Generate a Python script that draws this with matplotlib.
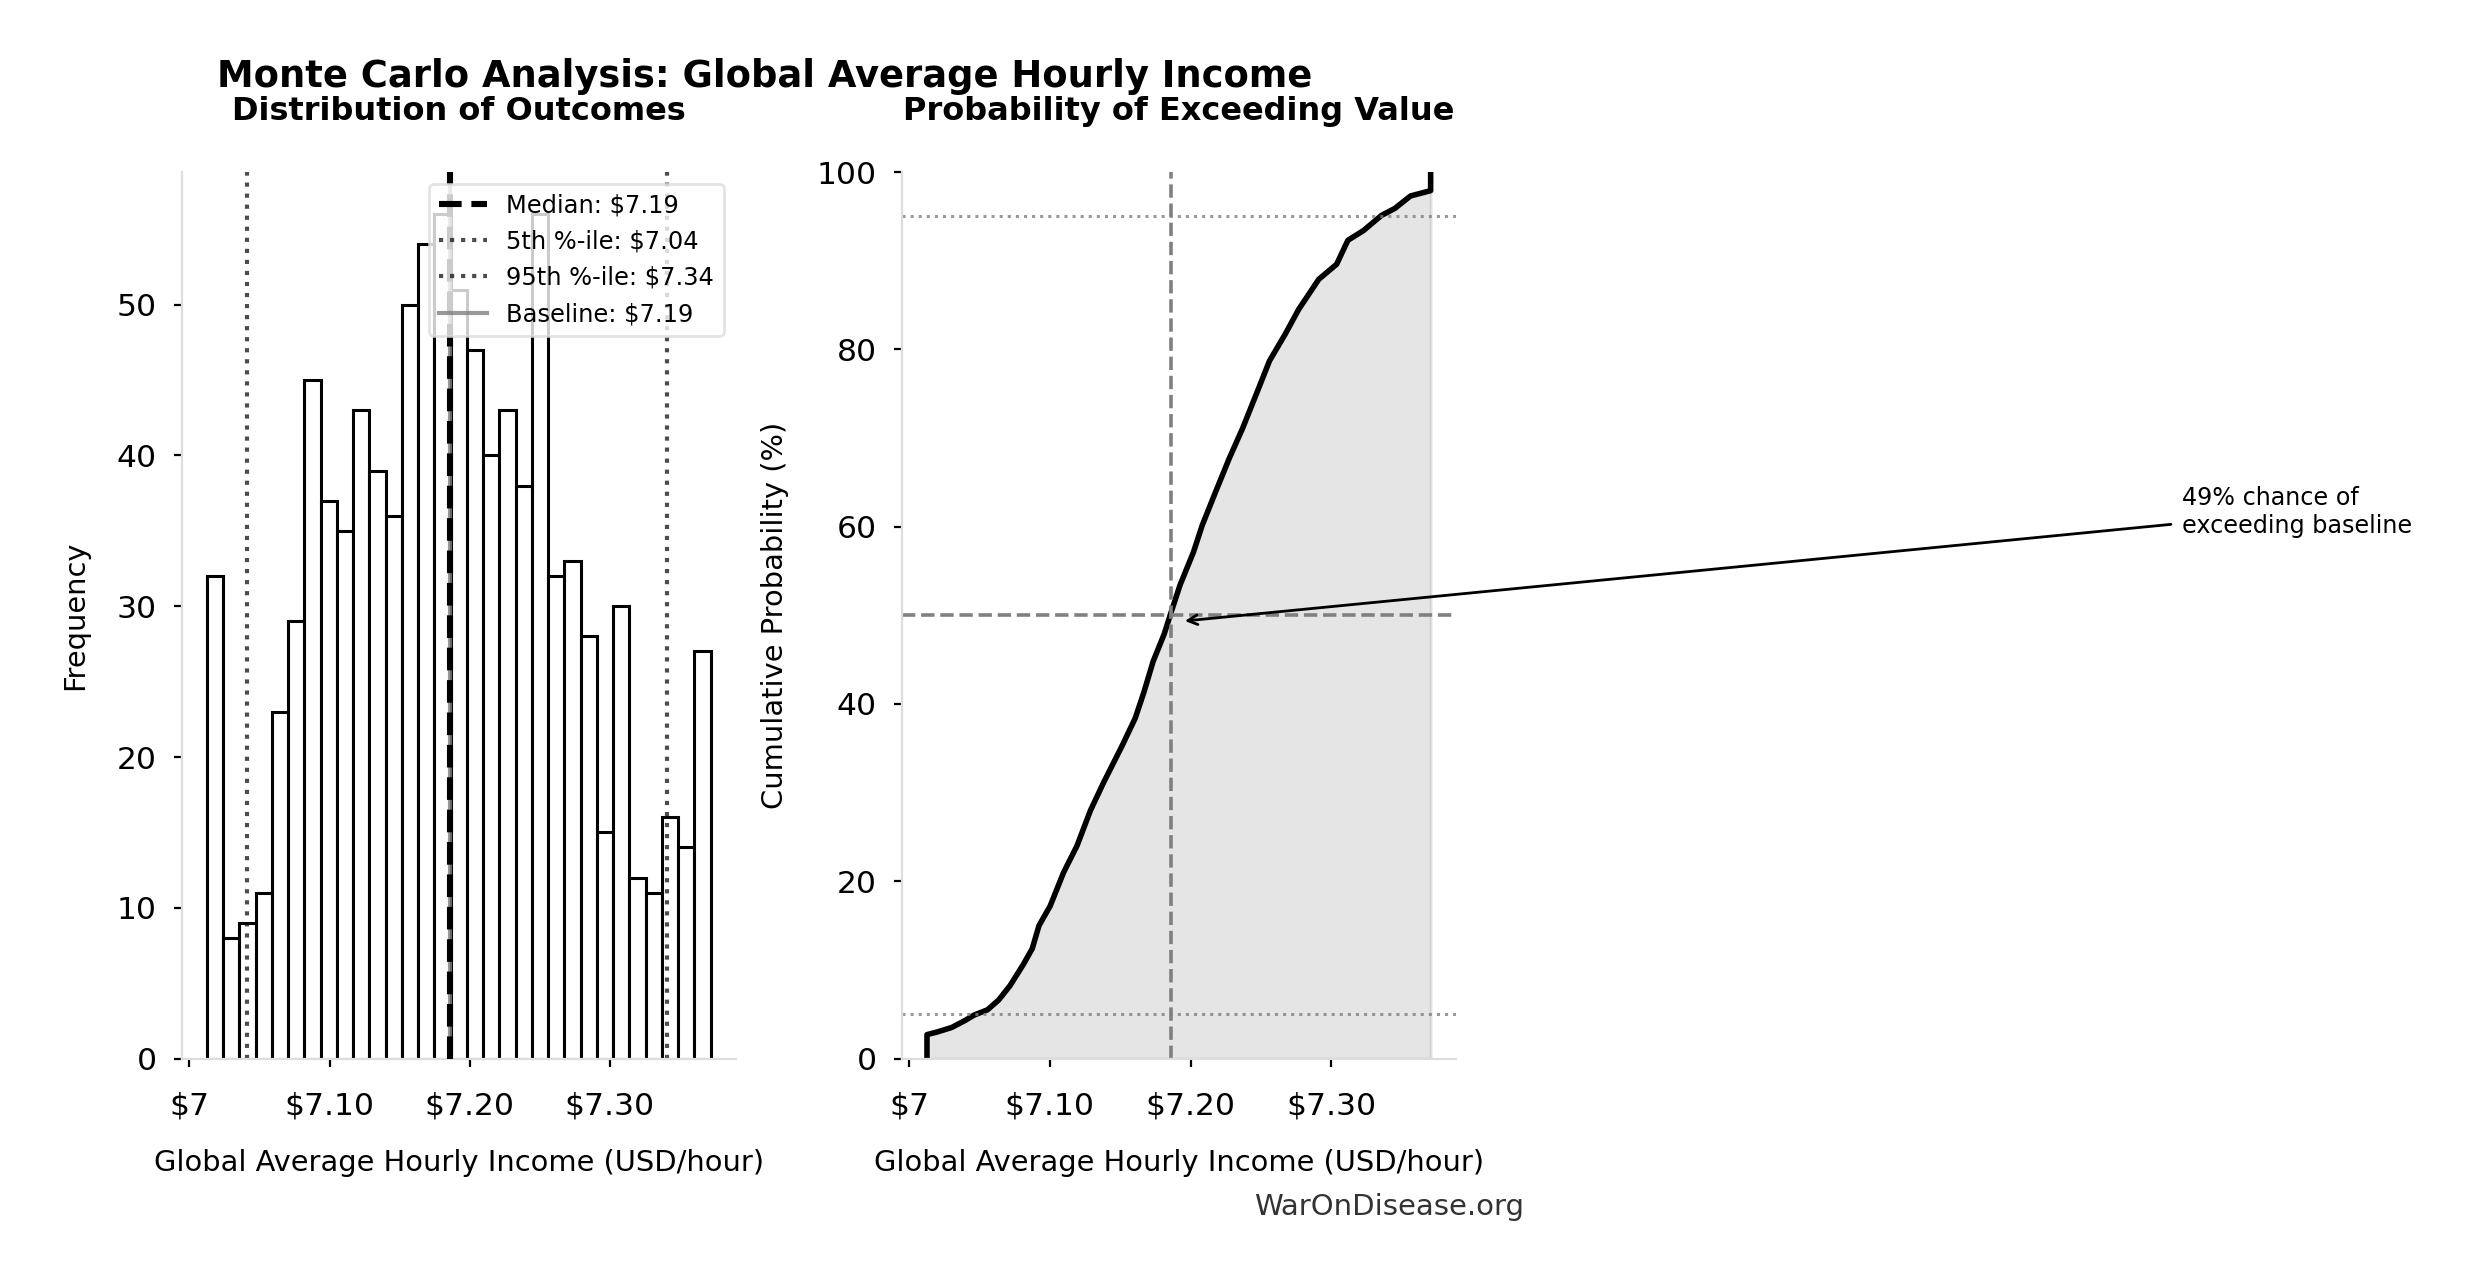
import numpy as np
import matplotlib
matplotlib.use("Agg")
import matplotlib.pyplot as plt
from matplotlib.ticker import FuncFormatter

# histogram of the 1000 simulated values (counts per bin)
hist_counts = [32, 8, 9, 11, 23, 29, 45, 37, 35, 43, 39, 36, 50, 54, 56, 51,
               47, 40, 43, 38, 56, 32, 33, 28, 15, 30, 12, 11, 16, 14, 27]
hist_lo = 7.0125
hist_hi = 7.372

cdf_x = [7.0127, 7.0127, 7.0200, 7.0302, 7.0398, 7.0461, 7.0557, 7.0636,
         7.0716, 7.0811, 7.0875, 7.0923, 7.1002, 7.1098, 7.1193, 7.1289,
         7.1384, 7.1511, 7.1607, 7.1670, 7.1734, 7.1813, 7.1861, 7.1925,
         7.2020, 7.2084, 7.2180, 7.2275, 7.2370, 7.2466, 7.2561, 7.2672,
         7.2768, 7.2911, 7.3038, 7.3118, 7.3229, 7.3356, 7.3452, 7.3563,
         7.3706, 7.3706]
cdf_pct = [0.0, 2.7, 3.0, 3.5, 4.3, 4.9, 5.5, 6.6,
           8.2, 10.6, 12.4, 15.0, 17.2, 21.0, 24.0, 28.0,
           31.2, 35.2, 38.4, 41.4, 44.8, 47.9, 50.3, 53.4,
           57.1, 60.2, 64.0, 67.7, 71.1, 74.9, 78.7, 81.7,
           84.5, 87.9, 89.6, 92.3, 93.4, 95.1, 95.9, 97.3,
           97.9, 100.0]

median = 7.186
p5 = 7.041
p95 = 7.341
baseline = 7.186
prob_exceed = 49

fig = plt.figure(figsize=(12.35, 6.4), dpi=200)
ax1 = fig.add_axes([0.0736, 0.1730, 0.2243, 0.6926])
ax2 = fig.add_axes([0.3651, 0.1730, 0.2243, 0.6926])


def money(x, pos):
    if abs(x - round(x)) < 1e-9:
        return f"${x:.0f}"
    return f"${x:.2f}"


# left: histogram
edges = np.linspace(hist_lo, hist_hi, len(hist_counts) + 1)
ax1.bar(edges[:-1], hist_counts, width=np.diff(edges), align="edge",
        color="white", edgecolor="black", linewidth=1.1)
ax1.axvline(median, color="black", linestyle="--", linewidth=2.2, zorder=4,
            label=f"Median: ${median:.2f}")
ax1.axvline(p5, color="black", alpha=0.7, linestyle=":", linewidth=1.5,
            label=f"5th %-ile: ${p5:.2f}")
ax1.axvline(p95, color="black", alpha=0.7, linestyle=":", linewidth=1.5,
            label=f"95th %-ile: ${p95:.2f}")
ax1.axvline(baseline, color="gray", alpha=0.8, linestyle="-", linewidth=1.5,
            zorder=1.5, label=f"Baseline: ${baseline:.2f}")
ax1.set_ylabel("Frequency", fontsize=10.4, labelpad=10)
ax1.set_xlabel("Global Average Hourly Income (USD/hour)", fontsize=10.4, labelpad=10)
ax1.set_title("Distribution of Outcomes", fontsize=11.5, fontweight="bold", pad=18.7)
ax1.legend(loc="upper right", fontsize=8.7, framealpha=0.8, edgecolor="#dddddd")

# right: cumulative probability
ax2.plot(cdf_x, cdf_pct, color="black", linewidth=2)
ax2.fill_between(cdf_x, 0, cdf_pct, color="gray", alpha=0.2)
ax2.axvline(baseline, color="gray", linestyle="--", linewidth=1.3)
ax2.axhline(50, color="gray", linestyle="--", linewidth=1.3)
ax2.axhline(5, color="gray", alpha=0.8, linestyle=":", linewidth=1.1)
ax2.axhline(95, color="gray", alpha=0.8, linestyle=":", linewidth=1.1)
ax2.set_ylim(0, 100)
ax2.set_ylabel("Cumulative Probability (%)", fontsize=10.4, labelpad=10)
ax2.set_xlabel("Global Average Hourly Income (USD/hour)", fontsize=10.4, labelpad=10)
ax2.set_title("Probability of Exceeding Value", fontsize=11.5, fontweight="bold", pad=18.7)
ax2.annotate(f"{prob_exceed}% chance of\nexceeding baseline",
             xy=(7.192, 49.3), xycoords="data",
             xytext=(0.8834, 0.6), textcoords="figure fraction",
             ha="left", va="center", fontsize=8.6,
             arrowprops=dict(arrowstyle="->", color="black", lw=1))

for ax in (ax1, ax2):
    ax.set_xticks([7.0, 7.1, 7.2, 7.3])
    ax.xaxis.set_major_formatter(FuncFormatter(money))
    ax.spines["top"].set_visible(False)
    ax.spines["right"].set_visible(False)
    ax.spines["left"].set_color("#dddddd")
    ax.spines["bottom"].set_color("#dddddd")
    ax.tick_params(labelsize=11.3, length=3, width=0.8)
    ax.tick_params(axis="x", pad=9)
    ax.tick_params(axis="y", pad=6)

fig.text(0.3096, 0.9323, "Monte Carlo Analysis: Global Average Hourly Income",
         ha="center", va="baseline", fontsize=13.3, fontweight="bold")
fig.text(0.617, 0.057, "WarOnDisease.org", ha="right", va="center",
         fontsize=10.5, color="#333333")

fig.savefig("out.png", dpi=200)
